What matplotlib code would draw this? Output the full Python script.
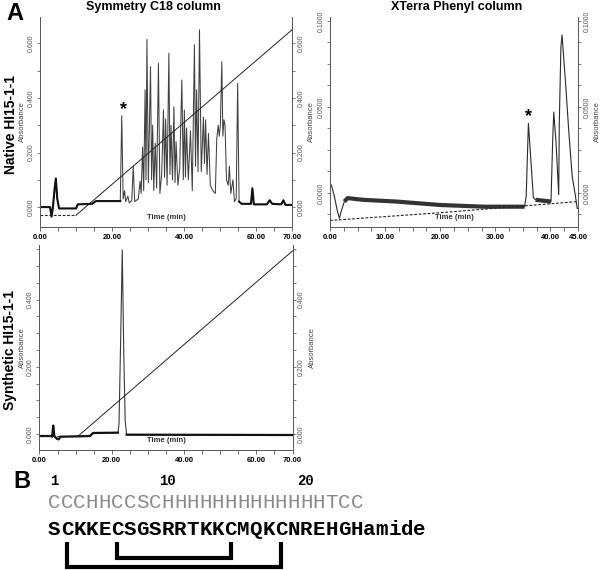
import numpy as np
import matplotlib
matplotlib.use('Agg')
import matplotlib.pyplot as plt
from matplotlib.ticker import MultipleLocator

plt.rcParams['font.family'] = ['Liberation Sans', 'DejaVu Sans']

# ---------------- data ----------------
native_c18_time = [0.0, 2.8, 3.2, 3.6, 4.0, 4.4, 4.8, 5.3, 10.0, 10.5, 14.5, 15.5, 22.3, 22.7, 23.1,
                   23.5, 23.8, 24.4, 24.8, 25.5, 25.9, 26.3, 27.3, 27.8, 28.1, 28.5, 28.8, 29.2, 29.45,
                   29.7, 30.1, 30.7, 31.0, 31.3, 31.6, 32.0, 32.4, 32.9, 33.3, 33.8, 34.3, 34.6, 34.9,
                   35.3, 35.8, 36.1, 36.4, 36.8, 37.2, 37.5, 37.8, 38.3, 38.8, 39.4, 39.8, 40.1, 40.4,
                   40.7, 41.2, 41.8, 42.3, 42.9, 43.2, 43.5, 43.9, 44.3, 44.8, 45.4, 45.7, 46.0, 46.4,
                   46.8, 47.3, 48.0, 48.7, 49.1, 49.5, 49.8, 50.1, 50.5, 50.8, 51.1, 51.4, 51.8, 52.3,
                   52.6, 53.0, 53.6, 54.0, 54.5, 54.9, 55.3, 56.0, 58.6, 59.0, 59.4, 63.0, 63.8, 64.5,
                   67.0, 67.6, 68.2, 70.0]
native_c18_abs = [0.000, 0.000, -0.035, 0.000, 0.060, 0.105, 0.030, -0.005, -0.005, 0.010, 0.012, 0.022,
                  0.022, 0.335, 0.030, 0.060, 0.020, 0.040, 0.015, 0.025, 0.150, 0.020, 0.030, 0.095,
                  0.050, 0.220, 0.060, 0.430, 0.100, 0.615, 0.090, 0.515, 0.100, 0.300, 0.060, 0.235,
                  0.070, 0.527, 0.050, 0.120, 0.356, 0.110, 0.323, 0.080, 0.564, 0.120, 0.300, 0.100,
                  0.368, 0.090, 0.240, 0.080, 0.140, 0.466, 0.100, 0.356, 0.110, 0.290, 0.100, 0.280,
                  0.060, 0.595, 0.150, 0.430, 0.130, 0.650, 0.130, 0.330, 0.160, 0.320, 0.120, 0.270,
                  0.080, 0.060, 0.050, 0.250, 0.300, 0.260, 0.300, 0.533, 0.260, 0.320, 0.300, 0.100,
                  0.080, 0.150, 0.050, 0.100, 0.020, 0.030, 0.454, 0.020, 0.012, 0.012, 0.069, 0.010,
                  0.010, 0.025, 0.012, 0.010, 0.025, 0.008, 0.008]
native_c18_grad_time = [0, 10, 70]
native_c18_grad_abs = [-0.03, -0.03, 0.65]

native_phenyl_time = [0.0, 0.3, 0.8, 1.3, 1.7, 2.1, 2.6, 3.2, 6.0, 12.0, 20.0, 28.0, 35.3, 35.6, 36.0,
                      36.45, 36.9, 37.3, 40.1, 40.4, 40.6, 41.0, 41.5, 41.6, 41.9, 42.1, 42.75, 43.35,
                      43.95, 44.55, 44.85, 45.0]
native_phenyl_abs = [0.006, 0.004, -0.002, -0.010, -0.0147, -0.010, -0.005, -0.003, -0.004, -0.005,
                     -0.007, -0.008, -0.008, -0.002, 0.0405, 0.019, -0.0027, -0.004, -0.005, 0.030,
                     0.047, 0.030, -0.001, 0.040, 0.085, 0.0918, 0.0637, 0.0347, 0.0095, -0.002,
                     -0.009, -0.009]
native_phenyl_grad_time = [0, 20, 45]
native_phenyl_grad_abs = [-0.016, -0.0115, -0.005]

synthetic_time = [0.0, 3.2, 3.5, 3.8, 4.1, 4.8, 5.3, 5.8, 10.7, 14.0, 14.8, 21.7, 22.0, 22.4, 22.9,
                  23.3, 23.7, 24.1, 70.0]
synthetic_abs = [-0.006, -0.006, -0.008, 0.025, -0.006, -0.014, -0.016, -0.008, -0.007, -0.006, 0.003,
                 0.004, 0.03, 0.25, 0.548, 0.25, 0.04, -0.002, -0.003]
synthetic_grad_time = [0, 10.7, 70]
synthetic_grad_abs = [-0.006, -0.006, 0.545]

c18_xticks = [0, 20, 40, 60, 70]
phenyl_xticks = [0, 10, 20, 30, 40, 45]

secondary_structure = "CCCHHCCSCHHHHHHHHHHHHHTCC"
sequence = "SCKKECSGSRRTKKCMQKCNREHGH"
c_terminus = "amide"
residue_marks = [1, 10, 20]
disulfide_bonds = [(2, 19), (6, 15)]

# ---------------- layout ----------------
W, H = 600, 570
fig = plt.figure(figsize=(6, 5.7), dpi=100)


def px_axes(x0, y0, x1, y1):
    return fig.add_axes([x0 / W, 1 - y1 / H, (x1 - x0) / W, (y1 - y0) / H])


def style(ax, xlim, ylim, xticks, xminor, ymajor, yminor, yfmt, ylab_positions):
    ax.set_xlim(*xlim)
    ax.set_ylim(*ylim)
    ax.spines['top'].set_visible(False)
    for s in ['left', 'right', 'bottom']:
        ax.spines[s].set_color('#555555')
        ax.spines[s].set_linewidth(0.7)
    ax.set_xticks(xticks, labels=['%.2f' % v for v in xticks], fontsize=5.5, fontweight='bold')
    ax.xaxis.set_minor_locator(MultipleLocator(xminor))
    yt = np.arange(0, ylim[1] + 1e-9, ymajor)
    ax.set_yticks(yt, labels=[yfmt % v for v in yt], fontsize=5, color='#555555')
    ax.yaxis.set_minor_locator(MultipleLocator(yminor))
    ax.tick_params(axis='x', which='both', direction='out', length=3, width=0.6, color='#555555', pad=2)
    ax.tick_params(axis='y', which='both', direction='out', left=True, right=True,
                   labelleft=True, labelright=True, length=2.5, width=0.6, color='#666666',
                   pad=1.5, labelrotation=90)
    for t in ax.yaxis.get_major_ticks():
        t.label1.set_va('center')
        t.label2.set_va('center')
        t.label2.set_fontsize(5)
        t.label2.set_color('#555555')
    for xp in ylab_positions:
        ax.text(xp, 0.5, 'Absorbance', transform=ax.transAxes, rotation=90, fontsize=5.5,
                color='#444444', ha='center', va='center')
    ax.text(0.5, 0.03, 'Time (min)', transform=ax.transAxes, fontsize=5.5, fontweight='bold',
            color='#333333', ha='center', va='bottom')


# ---- panel 1: native, Symmetry C18 ----
ax1 = px_axes(40, 17, 292, 227)
style(ax1, (0, 70), (-0.073, 0.697), c18_xticks, 5, 0.2, 0.1, '%.3f', [-0.069])
t1 = np.array(native_c18_time)
a1 = np.array(native_c18_abs)
ax1.plot(t1, a1, color='#404040', lw=0.75)
m = t1 <= 22.3
ax1.plot(t1[m], a1[m], color='#111111', lw=1.5)
m = t1 >= 55.3
ax1.plot(t1[m], a1[m], color='#111111', lw=1.5)
ax1.plot(native_c18_grad_time[:2], native_c18_grad_abs[:2], color='#222222', lw=0.8, ls=(0, (2.5, 1.5)))
ax1.plot(native_c18_grad_time[1:], native_c18_grad_abs[1:], color='#222222', lw=0.7)
ax1.text(23.1, 0.359, '*', fontsize=13, fontweight='bold', ha='center', va='center')

# ---- panel 2: native, XTerra Phenyl ----
ax2 = px_axes(330, 17, 578, 227)
style(ax2, (0, 45), (-0.0198, 0.1023), phenyl_xticks, 2.5, 0.05, 0.0125, '%.4f', [-0.075, 1.077])
t2 = np.array(native_phenyl_time)
a2 = np.array(native_phenyl_abs)
ax2.plot(t2, a2, color='#2a2a2a', lw=0.8)
m = (t2 >= 2.6) & (t2 <= 35.3)
ax2.plot(t2[m], a2[m], color='#333333', lw=3.0, solid_capstyle='butt')
m = (t2 >= 37.3) & (t2 <= 40.1)
ax2.plot(t2[m], a2[m], color='#333333', lw=3.0, solid_capstyle='butt')
ax2.plot(native_phenyl_grad_time, native_phenyl_grad_abs, color='#222222', lw=0.8, ls=(0, (2.5, 1.5)))
ax2.text(36.0, 0.0443, '*', fontsize=13, fontweight='bold', ha='center', va='center')

# ---- panel 3: synthetic, Symmetry C18 ----
ax3 = px_axes(39.5, 245, 292.5, 450)
style(ax3, (0, 70), (-0.0476, 0.5625), c18_xticks, 5, 0.2, 0.05, '%.3f', [-0.069, 1.08])
t3 = np.array(synthetic_time)
a3 = np.array(synthetic_abs)
ax3.plot(t3, a3, color='#3a3a3a', lw=0.8)
ax3.plot(t3[t3 <= 21.7], a3[t3 <= 21.7], color='#111111', lw=1.6)
ax3.plot(t3[t3 >= 24.1], a3[t3 >= 24.1], color='#111111', lw=1.6)
ax3.plot(synthetic_grad_time[:2], synthetic_grad_abs[:2], color='#222222', lw=0.8, ls=(0, (2.5, 1.5)))
ax3.plot(synthetic_grad_time[1:], synthetic_grad_abs[1:], color='#222222', lw=0.7)

# ---- labels ----
fig.text(15 / W, 1 - 13 / H, 'A', fontsize=17, fontweight='bold', ha='center', va='center')
fig.text(22 / W, 1 - 482 / H, 'B', fontsize=17, fontweight='bold', ha='center', va='center')
fig.text(153 / W, 1 - 7 / H, 'Symmetry C18 column', fontsize=9, fontweight='bold', ha='center', va='center')
fig.text(457 / W, 1 - 7 / H, 'XTerra Phenyl column', fontsize=9, fontweight='bold', ha='center', va='center')
fig.text(11 / W, 1 - 125 / H, 'Native HI15-1-1', fontsize=10, fontweight='bold', rotation=90,
         ha='center', va='center')
fig.text(10 / W, 1 - 350 / H, 'Synthetic HI15-1-1', fontsize=10, fontweight='bold', rotation=90,
         ha='center', va='center')

# ---- panel B: sequence ----
sax = px_axes(48, 470, 426, 570)
sax.set_xlim(0, 30)
sax.set_ylim(100, 0)
sax.axis('off')
mono = ['Liberation Mono', 'DejaVu Sans Mono']
label_nudge = {20: 0.9}
for n in residue_marks:
    sax.text(n - 0.5 + label_nudge.get(n, 0), 15, str(n), ha='center', va='baseline', fontsize=10,
             fontweight='bold', family=mono)
for i, ch in enumerate(secondary_structure):
    sax.text(i + 0.5, 38.3, ch, ha='center', va='baseline', fontsize=15, family=mono, color='#8a8a8a')
for i, ch in enumerate(sequence + c_terminus):
    sax.text(i + 0.5, 65, ch, ha='center', va='baseline', fontsize=15, fontweight='bold', family=mono,
             color='black')
for (a, b), depth in zip(disulfide_bonds, [96.7, 88.3]):
    sax.plot([a - 0.5, a - 0.5, b - 0.5, b - 0.5], [71.7, depth, depth, 71.7], color='black', lw=3,
             solid_joinstyle='miter', solid_capstyle='butt', clip_on=False)

fig.savefig('out.png', dpi=100)
